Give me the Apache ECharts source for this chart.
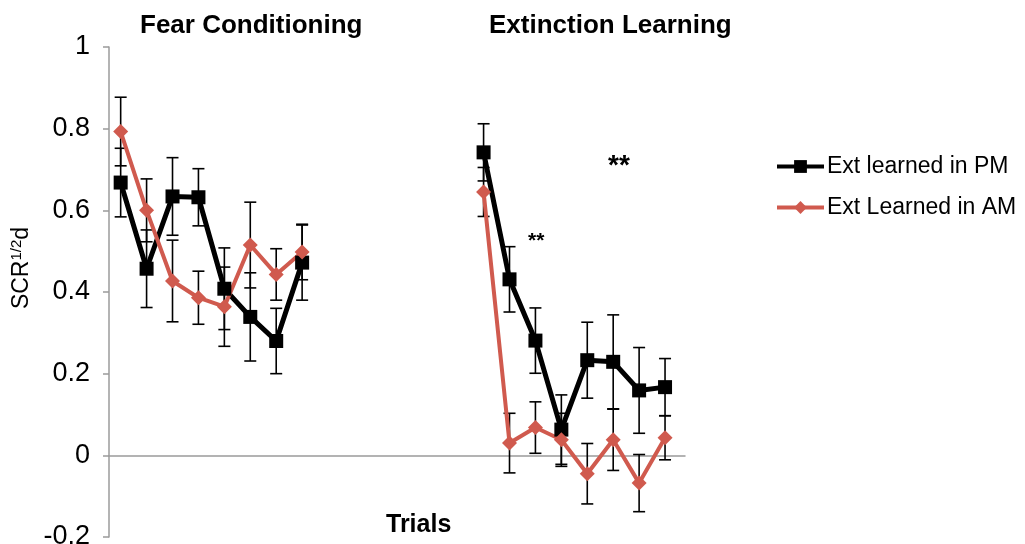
<!DOCTYPE html>
<html>
<head>
<meta charset="utf-8">
<script src="https://cdn.jsdelivr.net/npm/echarts@6/dist/echarts.min.js"></script>
<style>
html,body{margin:0;padding:0;background:#fff;}
#c{width:1025px;height:544px;}
</style>
</head>
<body>
<div id="c"></div>
<script>
// ---- data ----
const panelTitles = ['Fear Conditioning', 'Extinction Learning'];
const seriesNames = ['Ext learned in PM', 'Ext Learned in AM'];
const fearTrials = [1, 2, 3, 4, 5, 6, 7, 8];
const extTrials = [1, 2, 3, 4, 5, 6, 7, 8];
const pmFear    = [0.668, 0.457, 0.634, 0.632, 0.408, 0.339, 0.280, 0.472];
const pmFearErr = [0.084, 0.095, 0.095, 0.070, 0.100, 0.108, 0.080, 0.092];
const amFear    = [0.793, 0.600, 0.427, 0.386, 0.364, 0.515, 0.443, 0.498];
const amFearErr = [0.084, 0.077, 0.100, 0.065, 0.097, 0.105, 0.063, 0.068];
const pmExt     = [0.742, 0.431, 0.281, 0.063, 0.233, 0.229, 0.159, 0.167];
const pmExtErr  = [0.070, 0.080, 0.080, 0.085, 0.093, 0.115, 0.105, 0.070];
const amExt     = [0.645, 0.030, 0.068, 0.038, -0.045, 0.038, -0.068, 0.043];
const amExtErr  = [0.060, 0.073, 0.063, 0.065, 0.074, 0.075, 0.070, 0.054];
const yTicks = [-0.2, 0, 0.2, 0.4, 0.6, 0.8, 1];
const axisTitleX = 'Trials';
const signif = ['**', '**'];

// ---- layout helpers ----
const EXT_OFFSET = 13; // extinction trial 1 sits in slot 14
const FONT = '"Liberation Sans", Arial, Helvetica, sans-serif';
const BLACK = '#000000';
const RED = '#d05a4e';

function xy(trials, vals, offset) {
  return trials.map((t, i) => [t - 1 + offset, vals[i]]);
}
function err(trials, vals, errs, offset) {
  return trials.map((t, i) => [t - 1 + offset, vals[i] - errs[i], vals[i] + errs[i]]);
}

function errorBar(params, api) {
  const x = api.value(0), lo = api.value(1), hi = api.value(2);
  const a = api.coord([x, lo]), b = api.coord([x, hi]);
  const hw = 6;
  const st = { stroke: '#000', lineWidth: 1.6 };
  return {
    type: 'group',
    children: [
      { type: 'line', shape: { x1: a[0], y1: a[1], x2: b[0], y2: b[1] }, style: st },
      { type: 'line', shape: { x1: a[0] - hw, y1: a[1], x2: a[0] + hw, y2: a[1] }, style: st },
      { type: 'line', shape: { x1: b[0] - hw, y1: b[1], x2: b[0] + hw, y2: b[1] }, style: st }
    ]
  };
}

const fearOff = 0, extOff = EXT_OFFSET + 1;

function errSeries(data) {
  return { type: 'custom', renderItem: errorBar, data: data, z: 3, silent: true,
           encode: { x: 0, y: [1, 2] } };
}
function lineSeries(name, data, color, symbol, size, width) {
  return {
    type: 'line', name: name, data: data, symbol: symbol, symbolSize: size,
    itemStyle: { color: color, borderWidth: 0 },
    lineStyle: { color: color, width: width },
    z: 4, animation: false
  };
}

const chart = echarts.init(document.getElementById('c'), null, { renderer: 'canvas' });
chart.setOption({
  animation: false,
  backgroundColor: '#fff',
  grid: { left: 109, right: 340, top: 47, bottom: 7, containLabel: false, outerBoundsMode: 'none' },
  xAxis: {
    type: 'value', min: -0.45, max: 21.77,
    axisLine: { show: true, onZero: true, lineStyle: { color: '#9b9b9b', width: 1.5 } },
    axisTick: { show: false }, axisLabel: { show: false }, splitLine: { show: false }
  },
  yAxis: {
    type: 'value', min: yTicks[0], max: yTicks[yTicks.length - 1], interval: 0.2,
    axisLine: { show: true, onZero: false, lineStyle: { color: '#9b9b9b', width: 1.5 } },
    axisTick: { show: true, inside: false, length: 6, lineStyle: { color: '#9b9b9b', width: 1.5 } },
    axisLabel: { color: '#000', fontSize: 27, fontFamily: FONT, margin: 19,
                 formatter: v => String(Math.round(v * 10) / 10) },
    splitLine: { show: false }
  },
  legend: {
    orient: 'vertical', left: 770, top: 150, itemWidth: 47, itemHeight: 16, itemGap: 18,
    data: seriesNames,
    lineStyle: { width: 4 },
    textStyle: { color: '#000', fontSize: 23, fontFamily: FONT, padding: [0, 0, 0, -2] }
  },
  graphic: [
    { type: 'text', left: 140, top: 13, style: { text: panelTitles[0], fontSize: 26, fontWeight: 'bold', fontFamily: FONT, fill: '#000' } },
    { type: 'text', left: 489, top: 13, style: { text: panelTitles[1], fontSize: 26, fontWeight: 'bold', fontFamily: FONT, fill: '#000' } },
    { type: 'text', left: 386, top: 513, style: { text: axisTitleX, fontSize: 25, fontWeight: 'bold', fontFamily: FONT, fill: '#000' } },
    { type: 'text', left: 528, top: 231, style: { text: signif[0], fontSize: 21, fontWeight: 'bold', fontFamily: FONT, fill: '#000' } },
    { type: 'text', left: 608, top: 152, style: { text: signif[1], fontSize: 28, fontWeight: 'bold', fontFamily: FONT, fill: '#000' } },
    { type: 'text', x: 22, y: 268, rotation: Math.PI / 2,
      style: { text: '{a|SCR}{s|1/2}{a|d}', align: 'center', verticalAlign: 'middle', fill: '#000',
        rich: { a: { fontSize: 23, fontFamily: FONT, fill: '#000' },
                s: { fontSize: 15, fontFamily: FONT, fill: '#000', padding: [0, 0, 10, 0] } } } }
  ],
  series: [
    errSeries(err(fearTrials, pmFear, pmFearErr, fearOff)),
    errSeries(err(extTrials, pmExt, pmExtErr, extOff)),
    lineSeries(seriesNames[0], xy(fearTrials, pmFear, fearOff), BLACK, 'rect', 14, 5),
    lineSeries(seriesNames[0], xy(extTrials, pmExt, extOff), BLACK, 'rect', 14, 5),
    errSeries(err(fearTrials, amFear, amFearErr, fearOff)),
    errSeries(err(extTrials, amExt, amExtErr, extOff)),
    lineSeries(seriesNames[1], xy(fearTrials, amFear, fearOff), RED, 'diamond', 15, 4),
    lineSeries(seriesNames[1], xy(extTrials, amExt, extOff), RED, 'diamond', 15, 4)
  ]
});
</script>
</body>
</html>
